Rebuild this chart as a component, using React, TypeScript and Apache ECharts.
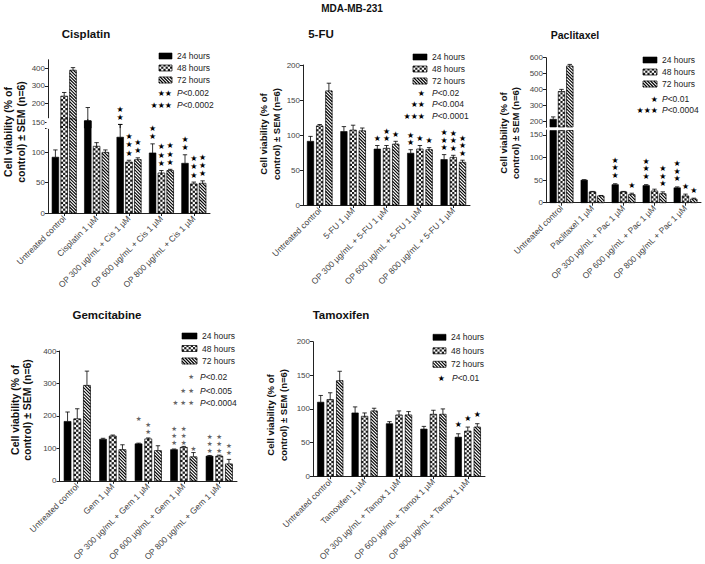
import React, { useEffect, useRef } from 'react';
import * as echarts from 'echarts';

const FONT = '"Liberation Sans", Arial, Helvetica, sans-serif';
const hours = ['24 hours', '48 hours', '72 hours'];

// ---------- Cisplatin ----------
const cisCats = ['Untreated control', 'Cisplatin 1 µM', 'OP 300 µg/mL + Cis 1 µM', 'OP 600 µg/mL + Cis 1 µM', 'OP 800 µg/mL + Cis 1 µM'];
const cis24 = [92, 152, 125, 99, 82];
const cis48 = [242, 110, 84, 66, 48];
const cis72 = [390, 100, 88, 70, 49];
const cisErr24 = [12, 25, 21, 15, 14];
const cisErr48 = [21, 6, 3, 4, 3];
const cisErr72 = [15, 4, 3, 2, 4];
const cisStars24 = [0, 0, 2, 2, 2];
const cisStars48 = [0, 0, 3, 3, 3];
const cisStars72 = [0, 0, 2, 3, 3];
const cisTicks = [0, 50, 100, 150, 140, 200, 300, 400];
const cisLabels = [0, 50, 100, 150, 200, 300, 400];

// ---------- 5-FU ----------
const fuCats = ['Untreated control', '5-FU 1 µM', 'OP 300 µg/mL + 5-FU 1 µM', 'OP 600 µg/mL + 5-FU 1 µM', 'OP 800 µg/mL + 5-FU 1 µM'];
const fu24 = [91, 105, 80, 74, 65];
const fu48 = [113, 107, 81, 80, 68];
const fu72 = [163, 106, 87, 79, 61];
const fuErr24 = [7, 7, 5, 5, 7];
const fuErr48 = [2, 7, 4, 5, 3];
const fuErr72 = [11, 4, 4, 3, 3];
const fuStars24 = [0, 0, 1, 2, 3];
const fuStars48 = [0, 0, 2, 1, 3];
const fuStars72 = [0, 0, 1, 1, 3];
const fuTicks = [0, 50, 100, 150, 200];

// ---------- Paclitaxel ----------
const pacCats = ['Untreated control', 'Paclitaxel 1 µM', 'OP 300 µg/mL + Pac 1 µM', 'OP 600 µg/mL + Pac 1 µM', 'OP 800 µg/mL + Pac 1 µM'];
const pac24 = [215, 50, 40, 38, 33];
const pac48 = [389, 24, 24, 26, 15];
const pac72 = [548, 15, 18, 20, 8];
const pacErr24 = [15, 1, 2, 2, 2];
const pacErr48 = [13, 1, 1, 4, 4];
const pacErr72 = [10, 1, 3, 4, 2];
const pacStars24 = [0, 0, 3, 3, 3];
const pacStars48 = [0, 0, 0, 0, 1];
const pacStars72 = [0, 0, 1, 3, 1];
const pacTicks = [0, 50, 100, 150, 200, 300, 400, 500, 600];

// ---------- Gemcitabine ----------
const gemCats = ['Untreated control', 'Gem 1 µM', 'OP 300 µg/mL + Gem 1 µM', 'OP 600 µg/mL + Gem 1 µM', 'OP 800 µg/mL + Gem 1 µM'];
const gem24 = [183, 128, 114, 96, 76];
const gem48 = [191, 138, 129, 103, 76];
const gem72 = [294, 96, 93, 74, 52];
const gemErr24 = [29, 3, 2, 2, 2];
const gemErr48 = [31, 3, 3, 3, 3];
const gemErr72 = [44, 15, 15, 13, 14];
const gemStars24 = [0, 0, 1, 3, 3];
const gemStars48 = [0, 0, 2, 3, 3];
const gemStars72 = [0, 0, 0, 1, 2];
// value at which the lowest star mark sits
const gemStarAt24 = [0, 0, 190, 118, 93];
const gemStarAt48 = [0, 0, 151, 118, 93];
const gemStarAt72 = [0, 0, 0, 98, 86];
const gemTicks = [0, 100, 200, 300, 400];

// ---------- Tamoxifen ----------
const tamCats = ['Untreated control', 'Tamoxifen 1 µM', 'OP 300 µg/mL + Tamox 1 µM', 'OP 600 µg/mL + Tamox 1 µM', 'OP 800 µg/mL + Tamox 1 µM'];
const tam24 = [110, 94, 78, 70, 58];
const tam48 = [114, 89, 91, 92, 67];
const tam72 = [142, 97, 91, 92, 73];
const tamErr24 = [10, 9, 3, 4, 5];
const tamErr48 = [10, 5, 6, 6, 6];
const tamErr72 = [14, 4, 5, 8, 5];
const tamStars24 = [0, 0, 0, 0, 1];
const tamStars48 = [0, 0, 0, 0, 1];
const tamStars72 = [0, 0, 0, 0, 1];
const tamTicks = [0, 50, 100, 150, 200];

// ---------- broken value axis ----------
type Brk = { L: number; G: number; U: number; r: number };
function mk(b?: Brk) {
  return (v: number) => {
    if (!b || v <= b.L) return v;
    if (v >= b.U) return b.L + b.G + (v - b.U) * b.r;
    return NaN;
  };
}
// visible pieces of [lo, hi] in axis units, tagged 0 (lower segment) or 1 (upper segment)
function pieces(lo: number, hi: number, b: Brk | undefined, top: number): [number, number, number][] {
  const T = mk(b);
  const out: [number, number, number][] = [];
  if (!b) { const h = Math.min(hi, top); if (h > lo) out.push([lo, h, 0]); return out; }
  const h1 = Math.min(hi, b.L);
  if (h1 > lo) out.push([lo, h1, 0]);
  const l2 = Math.max(lo, b.U), h2 = Math.min(hi, top);
  if (h2 > l2) out.push([T(l2), T(h2), 1]);
  return out;
}

// Filled rectangle with the hatch of series k (0 solid, 1 checkered, 2 diagonal stripes)
function patternEls(x0: number, y0: number, x1: number, y1: number, k: number, cell: number): any[] {
  const els: any[] = [];
  const w = x1 - x0, h = y1 - y0;
  if (!(h > 0) || !(w > 0)) return els;
  if (k === 0) {
    els.push({ type: 'rect', shape: { x: x0, y: y0, width: w, height: h }, style: { fill: '#000', stroke: '#000', lineWidth: 0.6 } });
    return els;
  }
  els.push({ type: 'rect', shape: { x: x0, y: y0, width: w, height: h }, style: { fill: '#fff' } });
  if (k === 1) {
    const cols = Math.ceil(w / cell - 0.01);
    for (let r = 0; r < 400; r++) {
      const yb = y1 - r * cell;
      if (yb <= y0 + 0.01) break;
      const yt = Math.max(y0, yb - cell);
      for (let c = 0; c < cols; c++) {
        if ((r + c) % 2 !== 0) continue;
        const xa = x0 + c * cell, xb = Math.min(x1, xa + cell);
        els.push({ type: 'rect', shape: { x: xa, y: yt, width: xb - xa, height: yb - yt }, style: { fill: '#1a1a1a' } });
      }
    }
  } else {
    const p = 3.2;
    const cStart = Math.floor((x0 - y1) / p) * p;
    for (let c = cStart; c <= x1 - y0; c += p) {
      const ya = Math.max(y0, x0 - c), yb = Math.min(y1, x1 - c);
      if (yb - ya > 0.3) els.push({ type: 'line', shape: { x1: ya + c, y1: ya, x2: yb + c, y2: yb }, style: { stroke: '#000', lineWidth: 1.1 } });
    }
  }
  els.push({ type: 'rect', shape: { x: x0, y: y0, width: w, height: h }, style: { fill: 'none', stroke: '#000', lineWidth: 0.7 } });
  return els;
}

// one data item = one visible piece of a bar: [category, pieceTop, pieceBottom, k]
function makeBarRender(step: number, bw: number) {
  return (_params: any, api: any) => {
    const cat = api.value(0), hi = api.value(1), lo = api.value(2), k = api.value(3);
    const pt = api.coord([cat, hi]);
    const pb = api.coord([cat, lo]);
    const xc = pt[0] + (k - 1) * step;
    return { type: 'group', children: patternEls(xc - bw / 2, pt[1], xc + bw / 2, pb[1], k, bw / 3) };
  };
}

// one data item = one visible piece of an error bar: [category, pieceTop, pieceBottom, k, capFlag]
function makeErrRender(step: number) {
  return (_p: any, api: any) => {
    const cat = api.value(0), hi = api.value(1), lo = api.value(2), k = api.value(3), cap = api.value(4);
    const a = api.coord([cat, lo]);
    const c = api.coord([cat, hi]);
    const x = a[0] + (k - 1) * step;
    const children: any[] = [
      { type: 'line', shape: { x1: x, y1: a[1], x2: x, y2: c[1] }, style: { stroke: '#000', lineWidth: 0.8 } },
    ];
    if (cap) children.push({ type: 'line', shape: { x1: x - 2.2, y1: c[1], x2: x + 2.2, y2: c[1] }, style: { stroke: '#000', lineWidth: 0.8 } });
    return { type: 'group', children };
  };
}

function makeStarRender(step: number, size: number, spacing: number, color: string, lift: number) {
  return (_p: any, api: any) => {
    const cat = api.value(0), anchor = api.value(1), n = api.value(2), k = api.value(3);
    const c = api.coord([cat, anchor]);
    const x = c[0] + (k - 1) * step;
    const children: any[] = [];
    for (let i = 0; i < n; i++) {
      children.push({
        type: 'text', x, y: c[1] - lift - i * spacing,
        style: { text: '★', fill: color, fontSize: size, fontFamily: 'DejaVu Sans', align: 'center', verticalAlign: 'middle' },
      });
    }
    return { type: 'group', children };
  };
}

type Panel = {
  title: string; titleX: number; titleY: number; titleSize: number;
  cats: string[]; v: number[][]; e: number[][]; s: number[][]; starAt?: number[][];
  left: number; top: number; width: number; height: number; axisTop: number; ticks: number[]; labels: number[]; brk?: Brk;
  bw: number; step: number;
  legendLeft: number; legendTop: number; legendW: number; legendRow: number;
  starRows: { stars: string; p: string; y: number }[]; starRight: number; textX: number;
  starColor: string; starSize: number; starSpacing: number; starLift: number; legendStarSize: number;
  nameX: number; nameY: number; nameSize: number; nameLH: number;
};

const panels: Panel[] = [
  {
    title: 'Cisplatin', titleX: 86, titleY: 34, titleSize: 11.5,
    cats: cisCats, v: [cis24, cis48, cis72], e: [cisErr24, cisErr48, cisErr72], s: [cisStars24, cisStars48, cisStars72],
    left: 48, top: 59.75, width: 162, height: 153.25, axisTop: 450, ticks: cisTicks, labels: cisLabels,
    brk: { L: 155, G: 8.24, U: 140, r: 0.2885 },
    bw: 6.7, step: 8.8,
    legendLeft: 159, legendTop: 56, legendW: 13, legendRow: 12,
    starRows: [{ stars: '★★', p: '<0.002', y: 93 }, { stars: '★★★', p: '<0.0002', y: 105 }], starRight: 172, textX: 177,
    starColor: '#000', starSize: 8, starSpacing: 8.3, starLift: 7, legendStarSize: 8,
    nameX: 14.5, nameY: 132, nameSize: 10.5, nameLH: 12.5,
  },
  {
    title: '5-FU', titleX: 321, titleY: 34, titleSize: 11.5,
    cats: fuCats, v: [fu24, fu48, fu72], e: [fuErr24, fuErr48, fuErr72], s: [fuStars24, fuStars48, fuStars72],
    left: 303, top: 65, width: 167, height: 140, axisTop: 200, ticks: fuTicks, labels: fuTicks,
    bw: 6.5, step: 9.2,
    legendLeft: 413, legendTop: 57, legendW: 14, legendRow: 12,
    starRows: [{ stars: '★', p: '<0.02', y: 93 }, { stars: '★★', p: '<0.004', y: 104 }, { stars: '★★★', p: '<0.0001', y: 116 }], starRight: 425, textX: 432,
    starColor: '#000', starSize: 8, starSpacing: 7.5, starLift: 7, legendStarSize: 8,
    nameX: 270, nameY: 134, nameSize: 9.5, nameLH: 13,
  },
  {
    title: 'Paclitaxel', titleX: 575, titleY: 35, titleSize: 10.5,
    cats: pacCats, v: [pac24, pac48, pac72], e: [pacErr24, pacErr48, pacErr72], s: [pacStars24, pacStars48, pacStars72],
    left: 546, top: 57.7, width: 155, height: 145, axisTop: 600, ticks: pacTicks, labels: pacTicks,
    brk: { L: 160, G: 7.76, U: 167, r: 0.3545 },
    bw: 6.5, step: 8.3,
    legendLeft: 643, legendTop: 60, legendW: 14, legendRow: 12,
    starRows: [{ stars: '★', p: '<0.01', y: 99 }, { stars: '★★★', p: '<0.0004', y: 110 }], starRight: 658, textX: 662,
    starColor: '#000', starSize: 8, starSpacing: 7.8, starLift: 8, legendStarSize: 8,
    nameX: 509, nameY: 133, nameSize: 9.5, nameLH: 12,
  },
  {
    title: 'Gemcitabine', titleX: 107, titleY: 315, titleSize: 11.5,
    cats: gemCats, v: [gem24, gem48, gem72], e: [gemErr24, gemErr48, gemErr72], s: [gemStars24, gemStars48, gemStars72],
    starAt: [gemStarAt24, gemStarAt48, gemStarAt72],
    left: 59.5, top: 351, width: 177.5, height: 134.7, axisTop: 400, ticks: gemTicks, labels: gemTicks,
    bw: 7, step: 9.7,
    legendLeft: 182, legendTop: 336, legendW: 15, legendRow: 12.5,
    starRows: [{ stars: '★', p: '<0.02', y: 377 }, { stars: '★ ★', p: '<0.005', y: 391 }, { stars: '★ ★ ★', p: '<0.0004', y: 403 }], starRight: 194, textX: 200,
    starColor: '#666', starSize: 6.5, starSpacing: 7, starLift: 0, legendStarSize: 6.5,
    nameX: 21, nameY: 410, nameSize: 10.5, nameLH: 12.5,
  },
  {
    title: 'Tamoxifen', titleX: 341, titleY: 315, titleSize: 11.5,
    cats: tamCats, v: [tam24, tam48, tam72], e: [tamErr24, tamErr48, tamErr72], s: [tamStars24, tamStars48, tamStars72],
    left: 313, top: 341.7, width: 172, height: 137.6, axisTop: 200, ticks: tamTicks, labels: tamTicks,
    bw: 6.5, step: 9.5,
    legendLeft: 433, legendTop: 337.3, legendW: 13, legendRow: 13.5,
    starRows: [{ stars: '★', p: '<0.01', y: 378 }], starRight: 445, textX: 452,
    starColor: '#000', starSize: 8, starSpacing: 8, starLift: 9, legendStarSize: 8,
    nameX: 277, nameY: 415, nameSize: 9.5, nameLH: 13,
  },
];

function buildOption() {
  const grid: any[] = [], xAxis: any[] = [], yAxis: any[] = [], series: any[] = [];
  const graphic: any[] = [
    { type: 'text', x: 352, y: 8, style: { text: 'MDA-MB-231', fontWeight: 'bold', fontSize: 10, fontFamily: FONT, fill: '#111', align: 'center', verticalAlign: 'middle' } },
  ];
  panels.forEach((p, idx) => {
    const T = mk(p.brk);
    const axMax = T(p.axisTop);
    const labelMap: Record<string, string> = {};
    p.labels.forEach((l) => { labelMap[T(l).toFixed(3)] = String(l); });
    grid.push({ left: p.left, top: p.top, width: p.width, height: p.height });
    xAxis.push({
      type: 'category', gridIndex: idx, data: p.cats,
      axisLine: { show: true, lineStyle: { color: '#222', width: 1 } },
      axisTick: { show: true, alignWithLabel: true, length: 3, lineStyle: { color: '#222' } },
      axisLabel: { rotate: 45, interval: 0, fontSize: 8.5, color: '#444', margin: 4, fontFamily: FONT },
    });
    yAxis.push({
      type: 'value', gridIndex: idx, min: 0, max: axMax,
      splitLine: { show: false },
      axisLine: { show: true, lineStyle: { color: '#222', width: 1 } },
      axisTick: { show: true, length: 3, lineStyle: { color: '#222' }, customValues: p.ticks.map(T) },
      axisLabel: {
        fontSize: 8, color: '#444', margin: 3, fontFamily: FONT, customValues: p.labels.map(T),
        formatter: (val: number) => labelMap[Number(val).toFixed(3)] ?? '',
      },
    });
    // bars split into their visible pieces; upper-segment pieces and lower-segment pieces in separate series
    const upperBars: any[] = [];
    const lowerBars: any[] = [];
    const errData: any[] = [];
    for (let k = 0; k < 3; k++) p.v[k].forEach((val, i) => {
      pieces(0, val, p.brk, p.axisTop).forEach(([lo, hi, seg]) => (seg ? upperBars : lowerBars).push([i, hi, lo, k]));
      const tip = T(val + p.e[k][i]);
      pieces(val, val + p.e[k][i], p.brk, p.axisTop).forEach(([lo, hi]) => errData.push([i, hi, lo, k, !isNaN(tip) && Math.abs(hi - tip) < 1e-6 ? 1 : 0]));
    });
    if (upperBars.length) series.push({ type: 'custom', name: 'barsUpper', xAxisIndex: idx, yAxisIndex: idx, silent: true, data: upperBars, encode: { x: 0, y: [1, 2] }, renderItem: makeBarRender(p.step, p.bw) });
    series.push({ type: 'custom', name: 'barsLower', xAxisIndex: idx, yAxisIndex: idx, silent: true, data: lowerBars, encode: { x: 0, y: [1, 2] }, renderItem: makeBarRender(p.step, p.bw) });
    series.push({ type: 'custom', name: 'sem', xAxisIndex: idx, yAxisIndex: idx, silent: true, data: errData, encode: { x: 0, y: [1, 2] }, renderItem: makeErrRender(p.step) });
    const starData: any[] = [];
    for (let k = 0; k < 3; k++) p.s[k].forEach((n, i) => {
      if (n > 0) starData.push([i, T(p.starAt ? p.starAt[k][i] : p.v[k][i] + p.e[k][i]), n, k]);
    });
    series.push({ type: 'custom', name: 'stars', xAxisIndex: idx, yAxisIndex: idx, silent: true, data: starData, encode: { x: 0, y: 1 }, renderItem: makeStarRender(p.step, p.starSize, p.starSpacing, p.starColor, p.starLift) });

    // white notch that breaks the value axis line between the two segments
    if (p.brk) {
      const yL = p.top + p.height - (p.brk.L / axMax) * p.height;
      const yU = p.top + p.height - (T(p.brk.U) / axMax) * p.height;
      graphic.push({ type: 'rect', z: 100, shape: { x: p.left - 1.5, y: yU + 0.8, width: 3, height: yL - yU - 1.6 }, style: { fill: '#fff' } });
    }

    // legend: hatched swatches + labels
    hours.forEach((hname, k) => {
      const cy = p.legendTop + k * p.legendRow;
      graphic.push({ type: 'group', children: patternEls(p.legendLeft, cy - 3, p.legendLeft + p.legendW, cy + 3, k, 2.2) });
      graphic.push({ type: 'text', x: p.legendLeft + p.legendW + 5, y: cy, style: { text: hname, fontSize: 8.5, fill: '#222', fontFamily: FONT, align: 'left', verticalAlign: 'middle' } });
    });
    p.starRows.forEach((r) => {
      graphic.push({ type: 'text', x: p.starRight, y: r.y, style: { text: r.stars, fill: p.starColor, fontSize: p.legendStarSize, fontFamily: 'DejaVu Sans', align: 'right', verticalAlign: 'middle' } });
      graphic.push({ type: 'text', x: p.textX, y: r.y, style: { text: '{i|P}' + r.p, fontSize: 8.5, fill: '#222', fontFamily: FONT, align: 'left', verticalAlign: 'middle', rich: { i: { fontStyle: 'italic', fontSize: 8.5, fontFamily: FONT, fill: '#222' } } } });
    });
    graphic.push({ type: 'text', x: p.titleX, y: p.titleY, style: { text: p.title, fontWeight: 'bold', fontSize: p.titleSize, fontFamily: FONT, fill: '#111', align: 'center', verticalAlign: 'middle' } });
    graphic.push({
      type: 'text', x: p.nameX, y: p.nameY, rotation: Math.PI / 2,
      style: { text: 'Cell viability (% of\ncontrol) ± SEM (n=6)', fontWeight: 'bold', fontSize: p.nameSize, lineHeight: p.nameLH, fontFamily: FONT, fill: '#111', align: 'center', verticalAlign: 'middle' },
    });
  });
  return { animation: false, backgroundColor: '#fff', grid, xAxis, yAxis, series, graphic };
}

export default function App() {
  const ref = useRef<HTMLDivElement>(null);
  useEffect(() => {
    document.body.style.margin = '0';
    if (!ref.current) return;
    const chart = echarts.init(ref.current, undefined, { renderer: 'svg' });
    chart.setOption(buildOption() as any);
    return () => chart.dispose();
  }, []);
  return <div ref={ref} style={{ width: 705, height: 564 }} />;
}
